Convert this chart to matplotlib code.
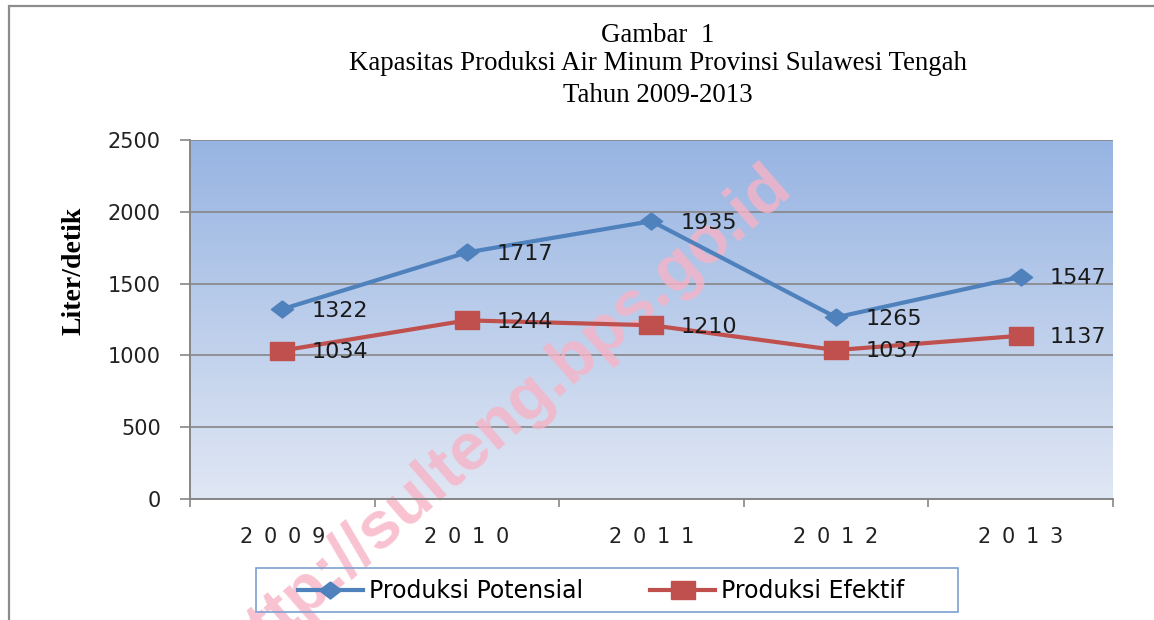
import numpy as np
import matplotlib
matplotlib.use("Agg")
import matplotlib.pyplot as plt
from matplotlib.colors import to_rgb
from matplotlib.patches import Rectangle

# data
years = ["2009", "2010", "2011", "2012", "2013"]
potensial = [1322, 1717, 1935, 1265, 1547]
efektif = [1034, 1244, 1210, 1037, 1137]
yticks = [0, 500, 1000, 1500, 2000, 2500]

title_lines = ["Gambar  1",
               "Kapasitas Produksi Air Minum Provinsi Sulawesi Tengah",
               "Tahun 2009-2013"]
series_names = ["Produksi Potensial", "Produksi Efektif"]
ylabel = "Liter/detik"
watermark = "http://sulteng.bps.go.id"

W, H = 1154, 620
BLUE = "#4F81BD"
RED = "#C0504D"
GRID = "#868686"

# wide markers (the source picture is stretched sideways)
diamond = [(0, 1), (1.3, 0), (0, -1), (-1.3, 0), (0, 1)]
square = [(-1.35, -1), (1.35, -1), (1.35, 1), (-1.35, 1), (-1.35, -1)]


def fx(px):
    return px / W


def fy(py):
    return 1 - py / H


fig = plt.figure(figsize=(W / 100, H / 100), dpi=100)
ax = fig.add_axes([fx(190), fy(499), fx(1113) - fx(190), fy(140) - fy(499)])

# outer frame (top and left edges only show)
fig.add_artist(Rectangle((fx(9), fy(640)), fx(1200) - fx(9), fy(6) - fy(640),
                         transform=fig.transFigure, fill=False,
                         edgecolor="#8C8C8C", lw=1.6))

# gradient plot area
top_c = np.array(to_rgb("#97B4E2"))
bot_c = np.array(to_rgb("#E0E7F4"))
t = np.linspace(0, 1, 256)[:, None]
grad = (top_c * (1 - t) + bot_c * t)[:, None, :]
ax.imshow(grad, extent=[-0.5, 4.5, 0, 2500], aspect="auto", zorder=0,
          interpolation="bicubic")

x = np.arange(len(years))
ax.plot(x, potensial, color=BLUE, lw=3, marker=diamond, markersize=16,
        label=series_names[0], zorder=3)
ax.plot(x, efektif, color=RED, lw=3, marker=square, markersize=17,
        label=series_names[1], zorder=3)

for xi, v in zip(x, potensial):
    ax.annotate(str(v), (xi, v), xytext=(21, -1), textcoords="offset points",
                ha="left", va="center", fontsize=16, color="#1a1a1a", zorder=4)
for xi, v in zip(x, efektif):
    ax.annotate(str(v), (xi, v), xytext=(21, -1), textcoords="offset points",
                ha="left", va="center", fontsize=16, color="#1a1a1a", zorder=4)

ax.set_xlim(-0.5, 4.5)
ax.set_ylim(0, 2500)
ax.set_yticks(yticks)
ax.set_yticklabels([str(v) for v in yticks], fontsize=15, color="#222222")
ax.set_xticks(x)
ax.set_xticklabels([" \u2009".join(y) for y in years], fontsize=15, color="#222222")
ax.set_xticks(np.arange(-0.5, 5, 1), minor=True)
ax.tick_params(axis="y", length=7, width=1.2, color=GRID, pad=14)
ax.tick_params(axis="x", which="major", length=0, pad=20)
ax.tick_params(axis="x", which="minor", length=6, width=1.2, color=GRID)

ax.grid(axis="y", color=GRID, lw=1.2)
for side in ("top", "right"):
    ax.spines[side].set_visible(False)
for side in ("left", "bottom"):
    ax.spines[side].set_color(GRID)
    ax.spines[side].set_linewidth(1.4)

# watermark sits over the background but under the lines and labels
ax.text(fx(793), fy(190), watermark, transform=fig.transFigure, clip_on=False,
        rotation=41, rotation_mode="anchor", ha="right", va="baseline",
        fontsize=48, fontweight="bold", family="Liberation Sans",
        color="#F7B3C6", alpha=0.8, zorder=2.5)

fig.text(fx(74), fy(271), ylabel, rotation=90, ha="center", va="center",
         fontsize=20, fontweight="bold", family="Liberation Serif")

for txt, py in zip(title_lines, [35, 64, 96]):
    fig.text(fx(658), fy(py), txt, ha="center", va="center", fontsize=19.4,
             family="Liberation Serif")

# legend: frameless legend plus hand drawn box
fig.add_artist(Rectangle((fx(256), fy(612)), fx(958) - fx(256), fy(568) - fy(612),
                         transform=fig.transFigure, fill=False,
                         edgecolor="#7FA0D0", lw=1.2, zorder=5))
leg = fig.legend(loc="center left", bbox_to_anchor=(fx(298), fy(591)),
                 ncol=2, frameon=False, fontsize=17, handlelength=2.75,
                 handletextpad=0.25, columnspacing=2.85, borderpad=0,
                 borderaxespad=0, numpoints=1)
leg.set_zorder(6)

fig.savefig("out.png", dpi=100)
